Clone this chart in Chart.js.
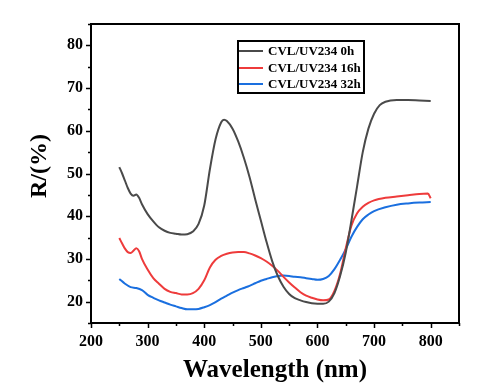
<!DOCTYPE html>
<html>
<head>
<meta charset="utf-8">
<script src="https://cdn.jsdelivr.net/npm/chart.js@4"></script>
<style>
html,body{margin:0;padding:0;background:#fff;}
#wrap{width:498px;height:388px;position:relative;}
</style>
</head>
<body>
<div id="wrap"><canvas id="c" width="498" height="388"></canvas></div>
<script>
const seriesNames = ["CVL/UV234 0h", "CVL/UV234 16h", "CVL/UV234 32h"];
const seriesColors = ["#4a4a4a", "#ee3b3b", "#1a6fdf"];
const xTicks = [200, 300, 400, 500, 600, 700, 800];
const yTicks = [20, 30, 40, 50, 60, 70, 80];

const wl0 = [250,255,260,265,270,275,280,285,290,300,310,320,330,340,350,360,370,380,390,400,410,420,430,435,440,450,460,470,480,490,500,510,520,530,540,550,560,570,580,590,600,610,620,630,640,650,660,670,680,690,700,710,720,740,760,780,800];
const r0  = [51.5,50.0,48.3,46.6,45.3,44.8,45.1,44.3,42.8,40.5,38.8,37.4,36.6,36.1,35.9,35.7,35.8,36.4,38.2,42.5,51.0,58.0,62.0,62.6,62.3,60.5,57.5,53.7,49.2,44.0,39.0,34.0,29.5,26.0,23.5,21.8,20.8,20.3,19.9,19.6,19.5,19.5,20.0,22.0,26.0,31.5,39.0,47.0,55.0,60.5,64.0,66.0,66.8,67.2,67.2,67.1,67.0];

const wl16 = [250,255,260,265,270,275,280,285,290,300,310,320,330,340,350,360,370,380,390,400,410,420,430,440,450,460,470,480,490,500,510,520,530,540,550,560,570,580,590,600,610,620,630,640,650,660,670,680,690,700,720,740,760,780,795,800];
const r16  = [34.9,33.6,32.4,31.6,31.4,31.9,32.5,31.8,30.0,27.5,25.5,24.2,23.0,22.3,22.0,21.7,21.7,22.0,23.0,25.0,28.0,29.8,30.7,31.2,31.5,31.6,31.6,31.3,30.8,30.2,29.4,28.4,27.2,25.8,24.5,23.3,22.2,21.4,20.9,20.5,20.3,20.5,22.5,26.5,32.5,37.8,40.7,42.2,43.1,43.7,44.3,44.6,44.9,45.2,45.3,44.2];

const wl32 = [250,260,270,280,290,300,310,320,330,340,350,360,370,380,390,400,410,420,430,440,450,460,470,480,490,500,510,520,530,540,550,560,570,580,590,600,610,620,630,640,650,660,670,680,690,700,720,740,760,780,800];
const r32  = [25.3,24.2,23.4,23.2,22.7,21.6,20.9,20.3,19.8,19.3,18.9,18.5,18.2,18.2,18.3,18.7,19.2,19.9,20.7,21.4,22.1,22.7,23.2,23.7,24.3,24.9,25.3,25.7,26.0,26.1,26.0,25.8,25.7,25.5,25.3,25.1,25.3,26.0,27.6,29.8,32.3,35.2,37.5,39.3,40.4,41.2,42.1,42.7,43.0,43.2,43.3];

const xTitle = "Wavelength (nm)";
const yTitle = "R/(%)";

const SERIF = "'Liberation Serif', 'Times New Roman', serif";

function pts(xs, ys){ return xs.map((x,i)=>({x:x, y:ys[i]})); }

const framePlugin = {
  id: 'frame',
  afterDatasetsDraw(chart){
    const ctx = chart.ctx, a = chart.chartArea;
    const xs = chart.scales.x, ys = chart.scales.y;
    ctx.save();
    ctx.strokeStyle = '#000';
    ctx.lineWidth = 2;
    ctx.strokeRect(a.left, a.top, a.right - a.left, a.bottom - a.top);
    ctx.lineWidth = 1.5;
    ctx.beginPath();
    for (let v = 200; v <= 850; v += 50) {
      const px = Math.round(xs.getPixelForValue(v)) + 0.5;
      const len = (v % 100 === 0) ? 5 : 3;
      ctx.moveTo(px, a.bottom); ctx.lineTo(px, a.bottom + len);
    }
    for (let v = 15; v <= 85; v += 5) {
      const py = Math.round(ys.getPixelForValue(v)) + 0.5;
      const len = (v % 10 === 0) ? 5 : 3;
      ctx.moveTo(a.left, py); ctx.lineTo(a.left - len, py);
    }
    ctx.stroke();

    const lx = 238, ly = 41, lw = 126, lh = 52;
    ctx.fillStyle = '#fff';
    ctx.fillRect(lx, ly, lw, lh);
    ctx.lineWidth = 2;
    ctx.strokeStyle = '#000';
    ctx.strokeRect(lx, ly, lw, lh);
    const rows = [51, 68, 84];
    ctx.font = "bold 13px " + SERIF;
    ctx.textBaseline = 'middle';
    ctx.textAlign = 'left';
    seriesNames.forEach((n, i) => {
      ctx.strokeStyle = seriesColors[i];
      ctx.lineWidth = 2;
      ctx.beginPath();
      ctx.moveTo(lx + 1, rows[i]); ctx.lineTo(lx + 25, rows[i]);
      ctx.stroke();
      ctx.fillStyle = '#000';
      ctx.fillText(n, lx + 30, rows[i] + 1);
    });

    ctx.fillStyle = '#000';
    ctx.font = "bold 25px " + SERIF;
    ctx.textAlign = 'center';
    ctx.textBaseline = 'middle';
    ctx.fillText(xTitle, 275, 371);
    ctx.save();
    ctx.translate(40, 166);
    ctx.rotate(-Math.PI / 2);
    ctx.font = "bold 24px " + SERIF;
    ctx.fillText(yTitle, 0, 0);
    ctx.restore();
    ctx.restore();
  }
};

new Chart(document.getElementById('c'), {
  type: 'line',
  data: {
    datasets: [
      { label: seriesNames[0], data: pts(wl0, r0), borderColor: seriesColors[0] },
      { label: seriesNames[1], data: pts(wl16, r16), borderColor: seriesColors[1] },
      { label: seriesNames[2], data: pts(wl32, r32), borderColor: seriesColors[2] }
    ]
  },
  options: {
    responsive: false,
    animation: false,
    devicePixelRatio: 1,
    layout: { padding: { left: 0, top: 24, right: 39, bottom: 0 } },
    elements: {
      point: { radius: 0 },
      line: { borderWidth: 2, tension: 0.35, cubicInterpolationMode: 'monotone', fill: false }
    },
    plugins: { legend: { display: false }, tooltip: { enabled: false } },
    scales: {
      x: {
        type: 'linear', min: 200, max: 850,
        grid: { display: false, drawTicks: false },
        border: { display: false },
        afterBuildTicks: s => { s.ticks = xTicks.map(v => ({ value: v })); },
        afterFit: s => { s.height = 65; },
        ticks: { padding: 9, color: '#000', font: { family: SERIF, size: 16, weight: 'bold' } }
      },
      y: {
        type: 'linear', min: 15, max: 85,
        grid: { display: false, drawTicks: false },
        border: { display: false },
        afterBuildTicks: s => { s.ticks = yTicks.map(v => ({ value: v })); },
        afterFit: s => { s.width = 91; },
        ticks: { padding: 8, color: '#000', font: { family: SERIF, size: 16, weight: 'bold' } }
      }
    }
  },
  plugins: [framePlugin]
});
</script>
</body>
</html>
